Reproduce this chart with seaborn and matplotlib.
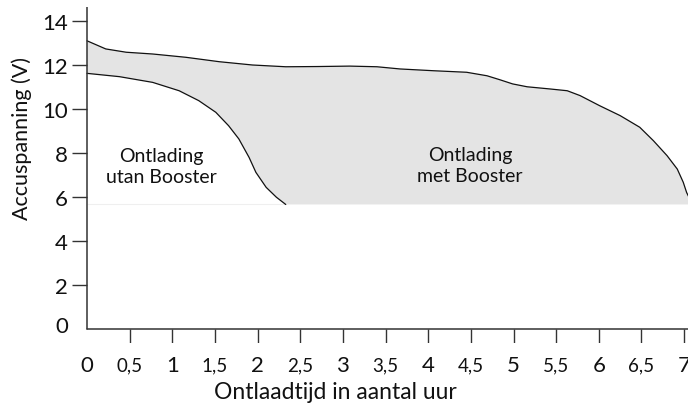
import matplotlib
matplotlib.use("Agg")
import matplotlib.pyplot as plt
import matplotlib.transforms as mtransforms
import seaborn as sns
import numpy as np
import pandas as pd

# discharge curve with Booster (hours, volts)
met_hours = [0.00, 0.22, 0.46, 0.77, 1.16, 1.55, 1.94, 2.33, 2.70, 3.08, 3.40,
             3.67, 4.06, 4.45, 4.69, 4.84, 4.99, 5.16, 5.43, 5.63, 5.78, 6.01,
             6.25, 6.48, 6.64, 6.80, 6.92, 6.99, 7.03, 7.10]
met_volt = [13.10, 12.73, 12.58, 12.50, 12.35, 12.15, 12.00, 11.92, 11.93, 11.95, 11.92,
            11.82, 11.74, 11.67, 11.51, 11.33, 11.14, 11.01, 10.91, 10.83, 10.61, 10.15,
            9.70, 9.17, 8.56, 7.88, 7.27, 6.67, 6.20, 5.66]

# discharge curve without Booster
utan_hours = [0.00, 0.38, 0.77, 1.08, 1.31, 1.51, 1.66, 1.78, 1.90, 1.98, 2.10, 2.22, 2.33]
utan_volt = [11.62, 11.47, 11.21, 10.83, 10.38, 9.85, 9.24, 8.64, 7.80, 7.12, 6.44, 5.99, 5.66]

floor_volt = 5.66

x_ticks = [0.5, 1, 1.5, 2, 2.5, 3, 3.5, 4, 4.5, 5, 5.5, 6, 6.5, 7]
x_labels = ["0,5", "1", "1,5", "2", "2,5", "3", "3,5", "4", "4,5",
            "5", "5,5", "6", "6,5", "7"]
y_ticks = [2, 4, 6, 8, 10, 12, 14]

sns.set_theme(style="white")
plt.rcParams["font.family"] = ["Lato", "DejaVu Sans"]

W, H = 688, 406
# axes box includes room for the tick marks; the axis lines sit at x=0 / y=0
L, B = 72, 344
fig = plt.figure(figsize=(W / 100, H / 100), dpi=100)
ax = fig.add_axes([L / W, (H - B) / H, (W - L) / W, (B - 8) / H])

x_min = -(87 - L) / 85.3
y_min = -(B - 330) / 22
ax.set_xlim(x_min, (W - 87) / 85.3)
ax.set_ylim(y_min, (330 - 8) / 22)

# shaded gain area between the two curves
poly_x = np.concatenate([met_hours, [utan_hours[-1]], utan_hours[::-1]])
poly_y = np.concatenate([met_volt, [floor_volt], utan_volt[::-1]])
ax.fill(poly_x, poly_y, color="#e4e4e4", lw=0, zorder=1)
ax.hlines(floor_volt, 0, utan_hours[-1], color="#efefef", lw=0.8, zorder=1)

met = pd.DataFrame({"uur": met_hours, "V": met_volt})
utan = pd.DataFrame({"uur": utan_hours, "V": utan_volt})
sns.lineplot(data=met, x="uur", y="V", sort=False, estimator=None,
             color="#111111", lw=0.9, ax=ax, zorder=3)
sns.lineplot(data=utan, x="uur", y="V", sort=False, estimator=None,
             color="#111111", lw=0.9, ax=ax, zorder=3)

# axis lines and tick marks
for s in ax.spines.values():
    s.set_visible(False)
ax.axhline(0, xmin=(87 - L) / (W - L), xmax=1, color="#333333", lw=1.1, zorder=4)
ax.axvline(0, ymin=(B - 330) / (B - 8), ymax=1, color="#333333", lw=1.1, zorder=4)
ax.vlines(x_ticks, y_min, 0, color="#333333", lw=1, zorder=4)
ax.hlines(y_ticks, x_min, 0, color="#333333", lw=1, zorder=4)

ax.set_xticks(x_ticks + [0], x_labels + ["0"])
ax.set_yticks([0] + y_ticks, ["0"] + [str(v) for v in y_ticks])
ax.tick_params(axis="x", length=0, pad=20, labelcolor="#111111")
ax.tick_params(axis="y", length=0, pad=3, labelsize=16, labelcolor="#111111")

for lab, v in zip(ax.get_xticklabels(), x_ticks + [0]):
    lab.set_fontsize(16 if float(v).is_integer() else 13.5)
    lab.set_va("baseline")
zero_lab = ax.get_yticklabels()[0]
zero_lab.set_transform(zero_lab.get_transform() +
                       mtransforms.ScaledTranslation(0, 5 / 100, fig.dpi_scale_trans))

ax.set_xlabel("Ontlaadtijd in aantal uur", fontsize=16.5, color="#111111")
ax.set_ylabel("Accuspanning (V)", fontsize=15.5, color="#111111")
ax.xaxis.set_label_coords((335 - L) / (W - L), -(393 - B) / (B - 8))
ax.yaxis.set_label_coords((22 - L) / (W - L), (B - 139) / (B - 8))
ax.xaxis.label.set_va("center")
ax.yaxis.label.set_va("center")

ax.text(0.87, 7.42, "Ontlading\nutan Booster", ha="center", va="center",
        fontsize=14, color="#111111", linespacing=1.3)
ax.text(4.49, 7.47, "Ontlading\nmet Booster", ha="center", va="center",
        fontsize=14, color="#111111", linespacing=1.3)

fig.savefig("out.png", dpi=100)
